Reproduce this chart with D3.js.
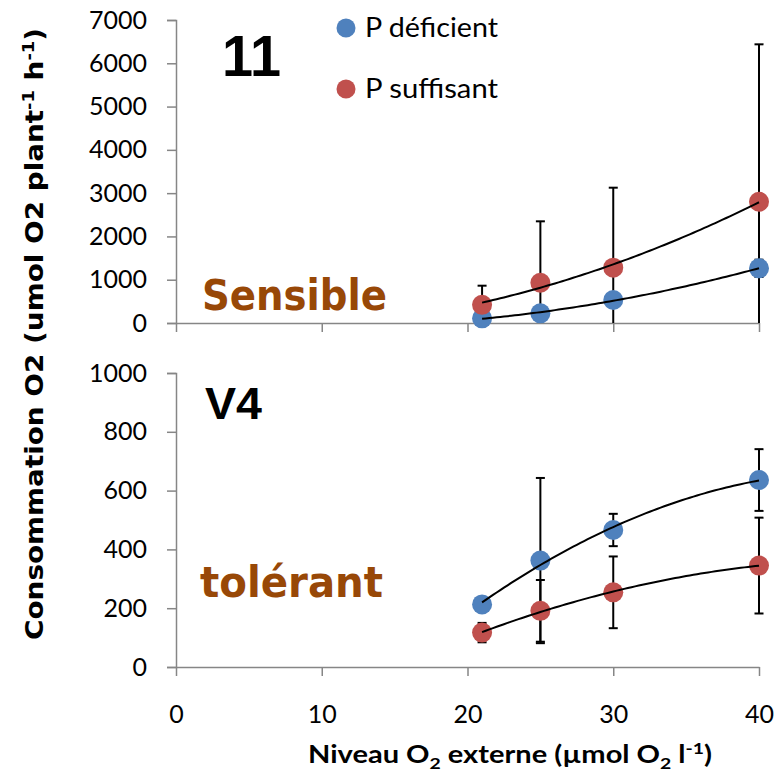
<!DOCTYPE html>
<html>
<head>
<meta charset="utf-8">
<script src="https://cdn.jsdelivr.net/npm/d3@7"></script>
<style>
  html, body { margin: 0; padding: 0; background: #fff; }
  svg { display: block; }
</style>
</head>
<body>
<svg id="chart" width="775" height="775"></svg>
<script>
// ---------- data ----------
const xValues = [21, 25, 30, 40];

const topDeficient = [108, 224, 531, 1263];
const topDeficientErr = [50, 80, 150, 200];
const topSuffisant = [420, 931, 1278, 2802];
const topSuffisantErr = [442, 1418, 1848, 3636];

const botDeficient = [213, 362, 466, 636];
const botDeficientErr = [10, 281, 55, 105];
const botSuffisant = [117, 191, 254, 345];
const botSuffisantErr = [33, 105, 122, 163];

const xTicks = [0, 10, 20, 30, 40];
const topYTicks = [0, 1000, 2000, 3000, 4000, 5000, 6000, 7000];
const botYTicks = [0, 200, 400, 600, 800, 1000];

const seriesNames = ["P déficient", "P suffisant"];
const seriesColors = ["#4F81BD", "#C0504D"];
const panelLabels = ["11", "V4"];
const panelNotes = ["Sensible", "tolérant"];

// ---------- setup ----------
const svg = d3.select("#chart");
const axisColor = "#868686";
const tickFont = "Lato, 'Open Sans', sans-serif";
const comicFont = "'Comic Sans MS', 'DejaVu Sans', sans-serif";

const x = d3.scaleLinear().domain([0, 40]).range([176, 759]);
const yTop = d3.scaleLinear().domain([0, 7000]).range([323, 20]);
const yBot = d3.scaleLinear().domain([0, 1000]).range([667, 373]);

// least-squares quadratic fit (trendline)
function quadFit(xs, ys) {
  const n = xs.length;
  let s = [0,0,0,0,0], t = [0,0,0];
  for (let i = 0; i < n; i++) {
    const xi = xs[i], yi = ys[i];
    for (let k = 0; k < 5; k++) s[k] += Math.pow(xi, k);
    for (let k = 0; k < 3; k++) t[k] += Math.pow(xi, k) * yi;
  }
  const A = [[s[0], s[1], s[2], t[0]], [s[1], s[2], s[3], t[1]], [s[2], s[3], s[4], t[2]]];
  for (let c = 0; c < 3; c++) {
    let p = c;
    for (let r = c + 1; r < 3; r++) if (Math.abs(A[r][c]) > Math.abs(A[p][c])) p = r;
    [A[c], A[p]] = [A[p], A[c]];
    for (let r = 0; r < 3; r++) {
      if (r === c) continue;
      const f = A[r][c] / A[c][c];
      for (let k = c; k < 4; k++) A[r][k] -= f * A[c][k];
    }
  }
  const a0 = A[0][3] / A[0][0], a1 = A[1][3] / A[1][1], a2 = A[2][3] / A[2][2];
  return xv => a0 + a1 * xv + a2 * xv * xv;
}

function drawPanel(y, yTicks, series, showXLabels) {
  const g = svg.append("g");

  // y axis
  const yAxis = d3.axisLeft(y).tickValues(yTicks).tickSize(9).tickPadding(20).tickFormat(d3.format("d"));
  const ya = g.append("g").attr("transform", `translate(${x(0)},0)`).call(yAxis);
  ya.select(".domain").attr("stroke", axisColor).attr("stroke-width", 1.5);
  ya.selectAll(".tick line").attr("stroke", axisColor).attr("stroke-width", 1.5);
  ya.selectAll(".tick text").attr("fill", "#000").style("font-family", tickFont).style("font-size", "25px");

  // x axis
  const xAxis = d3.axisBottom(x).tickValues(xTicks).tickSize(9).tickSizeOuter(0).tickPadding(29)
    .tickFormat(showXLabels ? d3.format("d") : () => "");
  const xa = g.append("g").attr("transform", `translate(0,${y(0)})`).call(xAxis);
  xa.select(".domain").attr("stroke", axisColor).attr("stroke-width", 1.5);
  xa.selectAll(".tick line").attr("stroke", axisColor).attr("stroke-width", 1.5);
  xa.selectAll(".tick text").attr("fill", "#000").style("font-family", tickFont).style("font-size", "25px");

  const [yMin, yMax] = y.domain();
  const cap = 4.5;

  // error bars
  series.forEach(s => {
    const eg = g.append("g");
    xValues.forEach((xv, i) => {
      const lo = Math.max(yMin, s.values[i] - s.err[i]);
      const hi = Math.min(yMax, s.values[i] + s.err[i]);
      eg.append("line").attr("x1", x(xv)).attr("x2", x(xv)).attr("y1", y(lo)).attr("y2", y(hi))
        .attr("stroke", "#000").attr("stroke-width", 2);
      if (s.values[i] + s.err[i] <= yMax)
        eg.append("line").attr("x1", x(xv) - cap).attr("x2", x(xv) + cap).attr("y1", y(hi)).attr("y2", y(hi))
          .attr("stroke", "#000").attr("stroke-width", 2);
      if (s.values[i] - s.err[i] >= yMin)
        eg.append("line").attr("x1", x(xv) - cap).attr("x2", x(xv) + cap).attr("y1", y(lo)).attr("y2", y(lo))
          .attr("stroke", "#000").attr("stroke-width", 2);
    });
  });

  // markers
  series.forEach(s => {
    g.append("g").selectAll("circle").data(xValues).join("circle")
      .attr("cx", d => x(d)).attr("cy", (d, i) => y(s.values[i]))
      .attr("r", 10).attr("fill", s.color);
  });

  // trendlines
  series.forEach(s => {
    const f = quadFit(xValues, s.values);
    const xs = d3.range(xValues[0], xValues[xValues.length - 1] + 0.001, 0.25);
    const line = d3.line().x(d => x(d)).y(d => y(f(d)));
    g.append("path").datum(xs).attr("d", line).attr("fill", "none")
      .attr("stroke", "#000").attr("stroke-width", 2);
  });
}

drawPanel(yTop, topYTicks, [
  { values: topDeficient, err: topDeficientErr, color: seriesColors[0] },
  { values: topSuffisant, err: topSuffisantErr, color: seriesColors[1] }
], false);

drawPanel(yBot, botYTicks, [
  { values: botDeficient, err: botDeficientErr, color: seriesColors[0] },
  { values: botSuffisant, err: botSuffisantErr, color: seriesColors[1] }
], true);

// panel labels
svg.append("text").attr("x", 222).attr("y", 76).text(panelLabels[0])
  .attr("font-family", "'Liberation Sans', Arial, sans-serif").attr("font-weight", "bold")
  .attr("font-size", 58).attr("textLength", 59).attr("lengthAdjust", "spacingAndGlyphs");
svg.append("text").attr("x", 205).attr("y", 419).text(panelLabels[1])
  .attr("font-family", "'Liberation Sans', Arial, sans-serif").attr("font-weight", "bold")
  .attr("font-size", 44).attr("textLength", 57).attr("lengthAdjust", "spacingAndGlyphs");

// notes
svg.append("text").attr("x", 202).attr("y", 310).text(panelNotes[0])
  .attr("font-family", comicFont).attr("font-weight", "bold").attr("fill", "#984807")
  .attr("font-size", 42).attr("textLength", 185).attr("lengthAdjust", "spacingAndGlyphs");
svg.append("text").attr("x", 200).attr("y", 597).text(panelNotes[1])
  .attr("font-family", comicFont).attr("font-weight", "bold").attr("fill", "#984807")
  .attr("font-size", 42).attr("textLength", 183).attr("lengthAdjust", "spacingAndGlyphs");

// legend
const legY = [28, 89];
const legW = [133, 133];
seriesNames.forEach((name, i) => {
  svg.append("circle").attr("cx", 346).attr("cy", legY[i]).attr("r", 9.5).attr("fill", seriesColors[i]);
  svg.append("text").attr("x", 365).attr("y", legY[i] + 9).text(name)
    .attr("font-family", tickFont).attr("font-size", 27).attr("fill", "#000")
    .attr("textLength", legW[i]).attr("lengthAdjust", "spacingAndGlyphs");
});

// y-axis title
const yt = svg.append("text")
  .attr("transform", "translate(43,334) rotate(-90)")
  .attr("text-anchor", "middle")
  .attr("font-family", comicFont).attr("font-weight", "bold").attr("font-size", 25)
  .attr("textLength", 612).attr("lengthAdjust", "spacingAndGlyphs");
yt.append("tspan").text("Consommation O2 (umol O2 plant");
yt.append("tspan").text("-1").attr("font-size", 16).attr("dy", -9);
yt.append("tspan").text(" h").attr("dy", 9);
yt.append("tspan").text("-1").attr("font-size", 16).attr("dy", -9);
yt.append("tspan").text(")").attr("dy", 9);

// x-axis title
const xt = svg.append("text")
  .attr("x", 510).attr("y", 763).attr("text-anchor", "middle")
  .attr("font-family", tickFont).attr("font-weight", "bold").attr("font-size", 24)
  .attr("textLength", 404).attr("lengthAdjust", "spacingAndGlyphs");
xt.append("tspan").text("Niveau O");
xt.append("tspan").text("2").attr("font-size", 16).attr("dy", 6);
xt.append("tspan").text(" externe (µmol O").attr("dy", -6);
xt.append("tspan").text("2").attr("font-size", 16).attr("dy", 6);
xt.append("tspan").text(" l").attr("dy", -6);
xt.append("tspan").text("-1").attr("font-size", 16).attr("dy", -9);
xt.append("tspan").text(")").attr("dy", 9);
</script>
</body>
</html>
